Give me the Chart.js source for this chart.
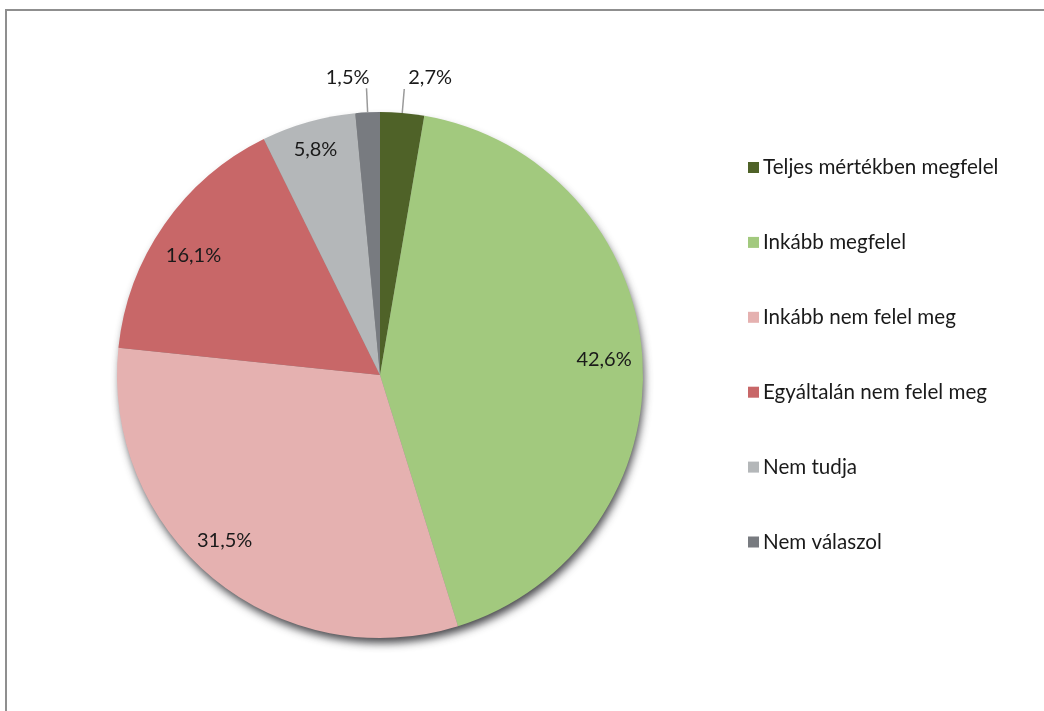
<!DOCTYPE html>
<html>
<head>
<meta charset="utf-8">
<script src="https://cdn.jsdelivr.net/npm/chart.js@4.4.1/dist/chart.umd.min.js"></script>
<style>
  html, body { margin: 0; padding: 0; background: #ffffff; width: 1044px; height: 711px; overflow: hidden; }
  #frame { position: absolute; left: 5px; top: 9px; width: 1200px; height: 900px; border: 2px solid #8f8f8f; box-sizing: border-box; }
  #wrap { position: absolute; left: 0; top: 0; width: 1044px; height: 711px; }
</style>
</head>
<body>
<div id="frame"></div>
<div id="wrap"><canvas id="c" width="1044" height="711"></canvas></div>
<script>
const categories = [
  "Teljes mértékben megfelel",
  "Inkább megfelel",
  "Inkább nem felel meg",
  "Egyáltalán nem felel meg",
  "Nem tudja",
  "Nem válaszol"
];
const shares = [2.7, 42.6, 31.5, 16.1, 5.8, 1.5];
const valueLabels = ["2,7%", "42,6%", "31,5%", "16,1%", "5,8%", "1,5%"];
const sliceColors = ["#4F6228", "#A2C97E", "#E5B1B0", "#C86768", "#B4B7B9", "#787B80"];

const FONT = "Lato, 'Liberation Sans', sans-serif";

// per-slice label placement (fraction of radius, or 'out' for leader line) and pixel nudges
const labelPlacement = ['out', 0.85, 0.86, 0.85, 0.9, 'out'];
const labelNudge = [[0, 0], [1, -1], [-12, -9], [-3, 8], [0, 2], [0, 0]];

const shadowPlugin = {
  id: 'pieShadow',
  beforeDatasetsDraw(chart) {
    const arc = chart.getDatasetMeta(0).data[0];
    if (!arc) return;
    const ctx = chart.ctx;
    ctx.save();
    ctx.shadowColor = 'rgba(40,40,45,0.85)';
    ctx.shadowBlur = 9;
    ctx.shadowOffsetX = 2;
    ctx.shadowOffsetY = 6;
    ctx.beginPath();
    ctx.arc(arc.x, arc.y, arc.outerRadius - 1, 0, Math.PI * 2);
    ctx.fillStyle = '#888';
    ctx.fill();
    ctx.restore();
  }
};

const labelPlugin = {
  id: 'sliceLabels',
  afterDatasetsDraw(chart) {
    const ctx = chart.ctx;
    const meta = chart.getDatasetMeta(0);
    ctx.save();
    ctx.font = "20px " + FONT;
    ctx.fillStyle = '#1a1a1a';
    ctx.textBaseline = 'middle';
    meta.data.forEach((arc, i) => {
      const mid = (arc.startAngle + arc.endAngle) / 2;
      const R = arc.outerRadius;
      const cx = Math.cos(mid), sy = Math.sin(mid);
      const place = labelPlacement[i];
      const [nx, ny] = labelNudge[i];
      if (place === 'out') {
        const x0 = arc.x + cx * R, y0 = arc.y + sy * R;
        const x1 = arc.x + cx * (R + 24), y1 = arc.y + sy * (R + 24);
        ctx.strokeStyle = '#9a9a9a';
        ctx.lineWidth = 1.5;
        ctx.beginPath();
        ctx.moveTo(x0, y0);
        ctx.lineTo(x1, y1);
        ctx.stroke();
        const right = cx >= 0;
        ctx.textAlign = right ? 'left' : 'right';
        ctx.fillText(valueLabels[i], (right ? x1 + 4 : x1 + 3) + nx, y1 - 11 + ny);
      } else {
        ctx.textAlign = 'center';
        ctx.fillText(valueLabels[i], arc.x + cx * R * place + nx, arc.y + sy * R * place + ny);
      }
    });
    ctx.restore();
  }
};

const legendPlugin = {
  id: 'sideLegend',
  afterDraw(chart) {
    const ctx = chart.ctx;
    const ds = chart.data.datasets[0];
    ctx.save();
    ctx.font = "20.6px " + FONT;
    ctx.textBaseline = 'middle';
    ctx.textAlign = 'left';
    chart.data.labels.forEach((lab, i) => {
      const y = 167.5 + i * 74.9;
      ctx.fillStyle = ds.backgroundColor[i];
      ctx.fillRect(748, y - 5.5, 11, 11);
      ctx.fillStyle = '#1a1a1a';
      ctx.fillText(lab, 763, y);
    });
    ctx.restore();
  }
};

new Chart(document.getElementById('c'), {
  type: 'pie',
  data: {
    labels: categories,
    datasets: [{
      data: shares,
      backgroundColor: sliceColors,
      borderWidth: 0
    }]
  },
  options: {
    responsive: false,
    animation: false,
    layout: { padding: { left: 117, top: 112, right: 401, bottom: 73 } },
    plugins: {
      legend: { display: false },
      tooltip: { enabled: false }
    }
  },
  plugins: [shadowPlugin, labelPlugin, legendPlugin]
});
</script>
</body>
</html>
